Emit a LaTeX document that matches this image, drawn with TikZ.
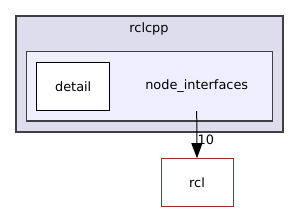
\documentclass[tikz,border=0pt]{standalone}
\usepackage{fontspec}
\setmainfont{DejaVu Sans}
\usetikzlibrary{arrows.meta}
\definecolor{outerfill}{HTML}{DDDDEE}
\definecolor{innerfill}{HTML}{EEEEFF}
\definecolor{frame}{HTML}{404040}
\tikzset{
  lbl/.style={font=\fontsize{12.9}{15}\selectfont, inner sep=0pt},
  cluster/.style={draw=frame, line width=1.3pt},
  dirbox/.style={draw=black, line width=1pt, fill=white},
  extbox/.style={draw=red, line width=1pt, fill=white},
  dep/.style={draw=black, line width=1pt, -{Triangle[length=15pt,width=11pt]}}
}
\begin{document}
\begin{tikzpicture}[x=1pt,y=-1pt]
\useasboundingbox (0,0) rectangle (299,212);
\draw[cluster, fill=outerfill] (16,16) rectangle (283,132);
\node[lbl] (rclcpp) at (149,28.5) {rclcpp};
\draw[cluster, fill=innerfill] (26.7,51.7) rectangle (272.7,121);
\node[lbl] (ni) at (196.7,86) {node\_interfaces};
\node[dirbox, minimum width=73pt, minimum height=48pt, inner sep=0pt] (detail) at (73.2,86.3) {};
\node[lbl] at (detail) {detail};
\coordinate (src) at (196.7,111);
\node[extbox, minimum width=72pt, minimum height=48pt, inner sep=0pt] (rcl) at (197,182.7) {};
\node[lbl] at (rcl) {rcl};
\draw[dep] (src) -- (rcl.north);
\node[lbl, anchor=west] (n10) at (197.5,139.5) {10};
\end{tikzpicture}
\end{document}
